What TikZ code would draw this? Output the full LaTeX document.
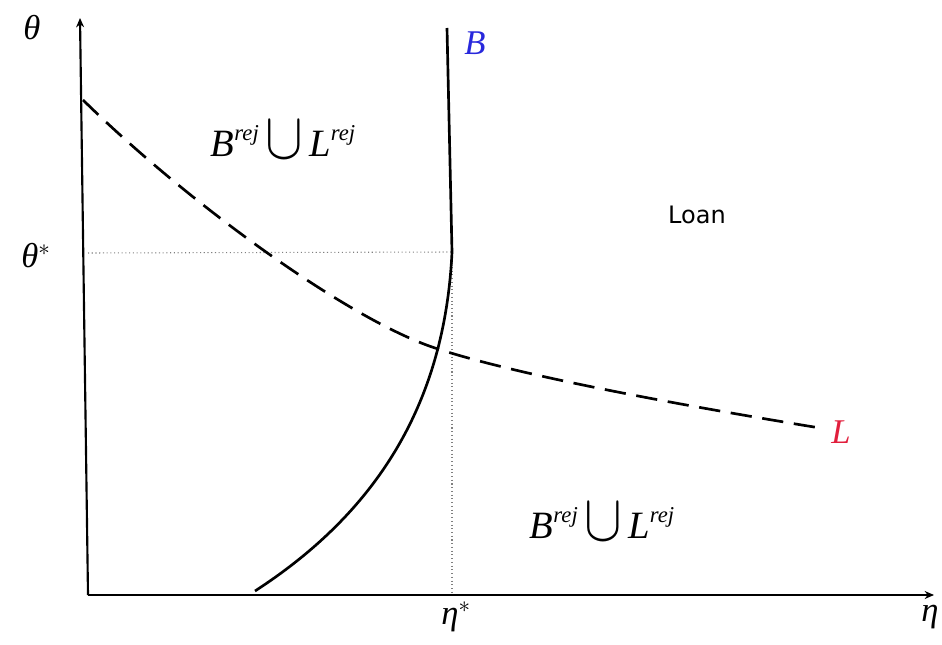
\documentclass[tikz,border=0pt]{standalone}
\usepackage{fontspec}
\setmainfont{Liberation Serif}
\newfontfamily\loanfont{DejaVu Sans}
\usetikzlibrary{arrows.meta}
\definecolor{bblue}{RGB}{40,40,220}
\definecolor{lred}{RGB}{225,30,60}
\newcommand{\rejsup}{\raisebox{0.42em}{\fontsize{17}{17}\selectfont\itshape rej}}
\newcommand{\rejtext}{{\itshape B}\rejsup\,\raisebox{-0.05em}{\scalebox{1.7}[2.0]{$\cup$}}\,{\itshape L}\rejsup}
\begin{document}
\begin{tikzpicture}[x=0.75pt,y=-0.75pt,
  axis/.style={line width=1.6pt,-{Stealth[length=7pt,width=6pt]}},
  curveline/.style={line width=2pt},
  guide/.style={line width=0.8pt,dotted,gray},
  mlabel/.style={font=\fontsize{26}{26}\selectfont\itshape,inner sep=0pt}]
\useasboundingbox (0,0) rectangle (942,645);
\coordinate (O) at (88,595);
\coordinate (ytop) at (80,18);
\coordinate (xend) at (934,595);
\coordinate (Btop) at (447,28);
\coordinate (K) at (452,252);
\coordinate (Bbot) at (255,591);
\coordinate (Kx) at (452,595);
\coordinate (Ky) at (88,253);
\coordinate (Lstart) at (83,100);
\coordinate (Lmid) at (435,348);
\coordinate (Lend) at (820,428);
\draw[axis] (O) -- (ytop);
\draw[axis] (O) -- (xend);
\draw[guide] (Ky) -- (K);
\draw[guide] (K) -- (Kx);
\draw[curveline] (Btop) -- (K) .. controls (445,400) and (380,510) .. (Bbot);
\draw[curveline,dash pattern=on 16pt off 8pt] (Lstart) .. controls (190,205) and (350,320) .. (Lmid) .. controls (520,376) and (680,405) .. (Lend);
\node[mlabel] (theta) at (32,28) {θ};
\node[mlabel] (thetastar) at (36,256) {θ$^*$};
\node[mlabel] (eta) at (930,617) {η};
\node[mlabel] (etastar) at (456,617) {η$^*$};
\node[mlabel,text=bblue] (Blab) at (475,43) {B};
\node[mlabel,text=lred] (Llab) at (841,432) {L};
\node[font=\fontsize{18}{18}\selectfont\loanfont,inner sep=0pt] (loan) at (697,215) {Loan};
\node[font=\fontsize{29}{29}\selectfont,inner sep=0pt] (r1) at (283,140) {\rejtext};
\node[font=\fontsize{29}{29}\selectfont,inner sep=0pt] (r2) at (602,522) {\rejtext};
\end{tikzpicture}
\end{document}
